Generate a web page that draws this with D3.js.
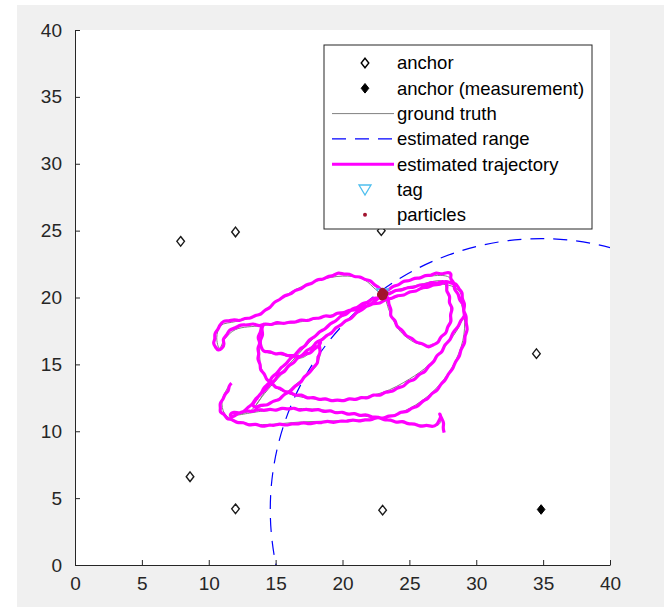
<!DOCTYPE html>
<html>
<head>
<meta charset="utf-8">
<style>
  body { margin: 0; background: #fff; }
  svg { display: block; }
</style>
</head>
<body>
<script src="https://cdn.jsdelivr.net/npm/d3@7"></script>
<div id="container1"></div>

<script>

// ---- data ----
const anchors = [[7.9, 24.2], [12.0, 24.9], [22.9, 25.0], [34.5, 15.8], [8.6, 6.6], [12.0, 4.2], [23.0, 4.1]];
const anchorMeas = [[34.85, 4.15]];
const estRange = [20.25];
const tagPos = [[23.0, 20.3]];
const particles = [[22.85, 20.3], [22.95, 20.45], [23.1, 20.4], [23.15, 20.2], [23.0, 20.1], [22.9, 20.15],
  [23.05, 20.3], [22.8, 20.2], [23.2, 20.3], [23.0, 20.5], [22.95, 20.0], [23.1, 20.05], [22.9, 20.35]];

const groundTruth = [
  [11.5,13.4],[11.0,12.3],[11.2,11.3],[12.2,10.7],[14.0,10.5],[17.0,10.7],[20.0,10.8],[23.0,11.0],[25.0,11.7],
  [26.8,13.0],[28.2,14.8],[29.0,16.8],[29.1,18.6],[28.6,20.3],[28.0,21.5],[26.5,21.6],[25.0,21.3],[23.8,20.8],
  [23.0,20.3],[21.5,21.4],[20.0,21.6],[18.3,21.3],[16.5,20.6],[14.8,19.5],[13.5,18.6],[12.0,18.2],[10.9,17.9],
  [10.6,17.0],[10.8,16.2],[11.2,16.9],[12.0,17.6],[14.0,17.9],[17.0,18.2],[20.0,18.9],[23.0,19.7],[25.5,20.5],
  [27.5,21.0],[28.7,20.5],[29.1,19.0],[28.7,17.8],[27.8,16.5],[26.5,15.0],[25.0,13.9],[23.0,12.9],[20.5,12.4],
  [18.0,12.4],[16.0,12.8],[14.7,13.5],[14.0,14.5],[13.8,16.0],[14.0,17.5],[14.0,16.1],[15.5,15.7],[17.0,15.5],
  [18.3,16.5],[18.1,15.0],[16.5,13.5],[15.0,12.3],[13.5,11.8],[14.0,12.6],[16.0,14.8],[18.0,16.6],[20.0,18.0],
  [21.5,19.1],[23.0,20.1],[23.5,19.0],[24.2,17.6],[25.5,16.6],[26.8,16.5],[27.8,17.6],[28.1,19.0],[27.8,20.5],
  [27.5,21.2],[25.5,20.9],[23.5,20.4],[22.0,19.7],[20.0,18.6],[18.0,17.1],[16.0,15.0],[14.5,13.4],[13.2,11.6],
  [12.0,11.2],[14.0,11.5],[17.0,11.7],[20.0,11.4],[23.0,10.9],[25.5,10.5],[27.2,10.5],[27.4,11.1]
];

const trajectory = [
  // lower-left hook, bottom, right side up
  [11.7,13.6],[11.5,13.4],[11.5,13.0],[11.2,12.8],[11.1,12.4],[10.8,12.1],[10.9,11.7],[10.8,11.4],[11.2,11.3],
  [11.3,10.9],[11.8,10.9],[12.1,10.6],[12.6,10.7],[13.0,10.4],[13.5,10.6],[14.0,10.3],[14.5,10.5],[14.9,10.4],
  [15.3,10.6],[15.8,10.4],[16.2,10.6],[16.7,10.5],[17.1,10.7],[17.5,10.5],[18.0,10.7],[18.4,10.6],[18.9,10.8],
  [19.3,10.6],[19.8,10.8],[20.3,10.7],[20.8,10.9],[21.2,10.7],[21.7,10.9],[22.1,10.8],[22.6,11.1],[23.0,10.9],
  [23.5,11.2],[23.9,11.1],[24.4,11.5],[24.8,11.4],[25.2,11.8],[25.6,11.8],[26.0,12.3],[26.4,12.4],[26.7,12.9],
  [27.1,13.0],[27.3,13.5],[27.7,13.8],[27.9,14.3],[28.3,14.7],[28.4,15.2],[28.8,15.6],[28.8,16.1],[29.2,16.6],
  [29.1,17.1],[29.4,17.6],[29.2,18.1],[29.3,18.6],[29.0,19.0],[29.1,19.5],[28.7,19.8],[28.7,20.3],[28.3,20.6],
  [28.4,21.1],[28.0,21.4],[28.2,21.8],
  // top, left to the hook
  [27.8,21.9],[27.4,21.7],[27.0,21.9],[26.6,21.6],[26.2,21.7],[25.8,21.4],[25.4,21.5],[25.0,21.2],[24.6,21.3],
  [24.2,20.9],[23.8,20.9],[23.4,20.5],[23.0,20.4],[22.7,20.8],[22.4,20.9],[22.1,21.3],[21.7,21.3],[21.3,21.6],
  [20.9,21.5],[20.5,21.8],[20.1,21.7],[19.7,21.9],[19.3,21.6],[18.9,21.6],[18.5,21.3],[18.1,21.4],[17.7,21.0],
  [17.3,21.0],[16.9,20.6],[16.5,20.6],[16.1,20.2],[15.7,20.2],[15.3,19.8],[14.9,19.7],[14.6,19.2],[14.2,19.1],
  [13.9,18.7],[13.5,18.7],[13.1,18.4],[12.7,18.5],[12.3,18.2],[11.9,18.4],[11.5,18.2],[11.1,18.3],[10.8,17.9],
  [10.7,17.6],[10.4,17.3],[10.5,16.9],[10.3,16.6],[10.5,16.3],[10.7,16.0],[11.0,16.2],
  // upper horizontal to the right
  [11.2,16.5],[11.0,16.9],[11.4,17.2],[11.5,17.6],[12.0,17.7],[12.4,18.0],[12.9,17.9],[13.3,18.1],[13.8,17.8],
  [14.2,18.1],[14.7,17.9],[15.1,18.2],[15.6,18.0],[16.0,18.2],[16.5,18.1],[16.9,18.4],[17.4,18.2],[17.8,18.5],
  [18.3,18.4],[18.7,18.7],[19.2,18.5],[19.6,18.9],[20.1,18.8],[20.5,19.1],[21.0,19.0],[21.4,19.4],[21.9,19.3],
  [22.3,19.6],[22.8,19.5],[23.2,19.9],[23.7,19.9],[24.1,20.2],[24.6,20.1],[25.0,20.5],[25.5,20.4],[25.9,20.8],
  [26.4,20.7],[26.8,21.0],[27.3,20.9],[27.7,21.3],[28.2,21.0],[28.5,21.1],[28.7,20.6],[29.0,20.4],[28.9,19.9],
  [29.2,19.5],[29.0,19.0],[29.2,18.6],
  // inner lower loop
  [28.8,18.3],[28.7,17.8],[28.2,17.4],[28.1,16.8],[27.6,16.5],[27.5,15.9],[27.0,15.7],[26.9,15.2],[26.4,14.9],
  [26.2,14.4],[25.7,14.3],[25.4,13.8],[24.9,13.8],[24.6,13.3],[24.1,13.3],[23.7,12.9],[23.2,13.0],[22.8,12.6],
  [22.3,12.8],[21.9,12.4],[21.4,12.6],[21.0,12.3],[20.5,12.5],[20.1,12.2],[19.6,12.4],[19.2,12.2],[18.7,12.5],
  [18.3,12.3],[17.8,12.6],[17.4,12.4],[16.9,12.8],[16.5,12.6],[16.0,13.0],[15.7,12.9],[15.3,13.3],[15.0,13.2],
  [14.7,13.7],[14.3,13.8],[14.2,14.3],[13.8,14.6],[13.9,15.0],[13.6,15.4],[13.8,15.8],[13.6,16.2],[13.9,16.6],
  [13.6,17.0],[13.9,17.4],[13.9,17.8],[14.2,18.1],
  // middle horizontal and notch
  [13.9,17.7],[14.1,17.2],[13.8,16.8],[13.9,16.3],[14.1,15.9],[14.6,16.0],[15.0,15.7],[15.4,15.9],[15.9,15.6],
  [16.3,15.7],[16.8,15.5],[17.2,15.8],[17.6,15.8],[17.9,16.2],[18.3,16.4],[18.4,16.8],[18.2,16.4],[18.4,15.9],
  [18.1,15.5],[18.2,15.1],[17.8,14.8],[17.6,14.4],[17.1,14.1],[16.9,13.6],[16.4,13.4],[16.1,12.9],[15.6,12.8],
  [15.3,12.3],[14.8,12.3],[14.4,11.9],[13.9,12.0],[13.5,11.7],[13.2,12.0],
  // diagonal up to the particles
  [13.6,12.4],[13.8,12.8],[14.3,13.1],[14.5,13.5],[15.0,13.8],[15.2,14.3],[15.7,14.4],[15.9,14.9],[16.4,15.1],
  [16.6,15.5],[17.1,15.7],[17.3,16.1],[17.8,16.2],[18.0,16.7],[18.5,16.8],[18.8,17.2],[19.2,17.3],[19.5,17.8],
  [19.9,17.9],[20.2,18.3],[20.7,18.4],[21.0,18.9],[21.4,19.0],[21.8,19.4],[22.2,19.5],[22.6,19.9],[23.0,20.2],
  // right inner loop
  [23.5,20.0],[23.4,19.5],[23.7,19.1],[23.5,18.6],[24.0,18.3],[24.0,17.8],[24.5,17.6],[24.7,17.1],[25.2,17.0],
  [25.5,16.6],[26.0,16.6],[26.4,16.2],[26.8,16.5],[27.2,16.6],[27.3,17.1],[27.8,17.3],[27.8,17.8],[28.2,18.2],
  [28.0,18.7],[28.3,19.2],[27.9,19.6],[28.1,20.1],[27.7,20.5],[27.9,20.9],[27.5,21.3],
  // back left and down the second diagonal
  [27.1,21.0],[26.7,21.2],[26.2,20.9],[25.8,21.0],[25.3,20.7],[24.9,20.8],[24.4,20.5],[24.0,20.6],[23.5,20.2],
  [23.1,20.3],[22.7,19.9],[22.3,20.0],[21.9,19.6],[21.5,19.6],[21.1,19.2],[20.7,19.2],[20.3,18.7],[19.9,18.7],
  [19.5,18.2],[19.1,18.1],[18.7,17.6],[18.3,17.5],[17.9,17.0],[17.5,16.9],[17.2,16.3],[16.8,16.2],[16.5,15.7],
  [16.1,15.5],[15.8,15.0],[15.4,14.8],[15.1,14.3],[14.7,14.1],[14.5,13.5],[14.1,13.3],[13.9,12.7],[13.5,12.5],
  [13.3,12.0],[12.9,11.8],[12.6,11.4],[12.2,11.4],[11.8,11.0],[11.5,11.2],
  // second bottom run into the tail
  [11.9,11.5],[12.3,11.3],[12.8,11.6],[13.2,11.4],[13.7,11.7],[14.1,11.5],[14.6,11.7],[15.0,11.5],[15.5,11.8],
  [15.9,11.6],[16.4,11.8],[16.8,11.5],[17.3,11.7],[17.7,11.5],[18.2,11.7],[18.6,11.4],[19.1,11.6],[19.5,11.3],
  [20.0,11.5],[20.4,11.2],[20.9,11.4],[21.3,11.1],[21.8,11.3],[22.2,11.0],[22.7,11.1],[23.1,10.8],[23.6,10.9],
  [24.0,10.6],[24.5,10.8],[24.9,10.5],[25.4,10.6],[25.8,10.3],[26.3,10.5],[26.7,10.3],[27.1,10.5],[27.2,10.8],
  [27.4,11.1],[27.2,11.4],[27.4,11.0],[27.6,10.6],[27.5,10.3],[27.6,9.9]
];

const xTicks = [0, 5, 10, 15, 20, 25, 30, 35, 40];
const yTicks = [0, 5, 10, 15, 20, 25, 30, 35, 40];
const legendLabels = ["anchor", "anchor (measurement)", "ground truth", "estimated range",
  "estimated trajectory", "tag", "particles"];

// ---- layout ----
const W = 664, H = 607;
const margin = {top: 30, left: 75},
    width = 535,
    height = 535;

const svg = d3.select("#container1")
  .append("svg")
    .attr("width", W)
    .attr("height", H)
    .style("font-family", "'Liberation Sans', Arial, Helvetica, sans-serif");

// figure background
svg.append("rect").attr("x", 17).attr("y", 5).attr("width", W - 17).attr("height", H - 5).attr("fill", "#f0f0f0");

const g = svg.append("g").attr("transform", `translate(${margin.left},${margin.top})`);

g.append("rect").attr("width", width).attr("height", height).attr("fill", "#fff");

const x = d3.scaleLinear().domain([0, 40]).range([0, width]);
const y = d3.scaleLinear().domain([0, 40]).range([height, 0]);

g.append("clipPath").attr("id", "clip")
  .append("rect").attr("width", width).attr("height", height);

const plot = g.append("g").attr("clip-path", "url(#clip)");

const diamond = "M0,-4.8L3.8,0L0,4.8L-3.8,0Z";

// ground truth
plot.append("path")
  .datum(groundTruth)
  .attr("fill", "none")
  .attr("stroke", "#808080")
  .attr("stroke-width", 1)
  .attr("d", d3.line().x(d => x(d[0])).y(d => y(d[1])).curve(d3.curveCatmullRom));

// estimated range
plot.selectAll("circle.range")
  .data(estRange)
  .join("circle")
    .attr("class", "range")
    .attr("cx", x(anchorMeas[0][0]))
    .attr("cy", y(anchorMeas[0][1]))
    .attr("r", d => x(d) - x(0))
    .attr("fill", "none")
    .attr("stroke", "#0000ff")
    .attr("stroke-width", 1.2)
    .attr("stroke-dasharray", "14,9");

// estimated trajectory
plot.append("path")
  .datum(trajectory)
  .attr("fill", "none")
  .attr("stroke", "#ff00ff")
  .attr("stroke-width", 3.2)
  .attr("stroke-linejoin", "round")
  .attr("d", d3.line().x(d => x(d[0])).y(d => y(d[1])).curve(d3.curveBasis));

// anchors
plot.selectAll("path.anchor")
  .data(anchors)
  .join("path")
    .attr("class", "anchor")
    .attr("transform", d => `translate(${x(d[0])},${y(d[1])})`)
    .attr("d", diamond)
    .attr("fill", "none")
    .attr("stroke", "#1a1a1a")
    .attr("stroke-width", 1.4);

plot.selectAll("path.meas")
  .data(anchorMeas)
  .join("path")
    .attr("class", "meas")
    .attr("transform", d => `translate(${x(d[0])},${y(d[1])})`)
    .attr("d", diamond)
    .attr("fill", "#000")
    .attr("stroke", "#000");

// tag
const tri = "M-6,-4.5L6,-4.5L0,5.5Z";
plot.selectAll("path.tag")
  .data(tagPos)
  .join("path")
    .attr("class", "tag")
    .attr("transform", d => `translate(${x(d[0])},${y(d[1])})`)
    .attr("d", tri)
    .attr("fill", "none")
    .attr("stroke", "#4dbeee")
    .attr("stroke-width", 1.3);

// particles
plot.selectAll("circle.particle")
  .data(particles)
  .join("circle")
    .attr("class", "particle")
    .attr("cx", d => x(d[0]))
    .attr("cy", d => y(d[1]))
    .attr("r", 3)
    .attr("fill", "#a2142f");

// axes (MATLAB style: ticks inward, no box)
const xAxis = g.append("g")
  .attr("transform", `translate(0,${height})`)
  .call(d3.axisBottom(x).tickValues(xTicks).tickSize(-5).tickPadding(12).tickSizeOuter(0));
const yAxis = g.append("g")
  .call(d3.axisLeft(y).tickValues(yTicks).tickSize(-5).tickPadding(13).tickSizeOuter(0));

[xAxis, yAxis].forEach(a => {
  a.select(".domain").attr("stroke", "#262626");
  a.selectAll(".tick line").attr("stroke", "#262626");
  a.selectAll(".tick text")
    .attr("fill", "#262626")
    .style("font-size", "19px")
    .style("font-family", "'Liberation Sans', Arial, sans-serif");
});

// legend
const lg = svg.append("g").attr("transform", "translate(324,45)");
lg.append("rect")
  .attr("width", 268).attr("height", 184)
  .attr("fill", "#fff").attr("stroke", "#262626").attr("stroke-width", 1);

const rowY = i => 18 + i * 25.3;
const mx = 41, lx0 = 8, lx1 = 70, tx = 73;

lg.selectAll("text")
  .data(legendLabels)
  .join("text")
    .attr("x", tx)
    .attr("y", (d, i) => rowY(i))
    .attr("dy", "0.35em")
    .style("font-size", "18.5px")
    .attr("fill", "#000")
    .text(d => d);

lg.append("path").attr("transform", `translate(${mx},${rowY(0)})`).attr("d", diamond)
  .attr("fill", "none").attr("stroke", "#000").attr("stroke-width", 1.4);
lg.append("path").attr("transform", `translate(${mx},${rowY(1)})`).attr("d", diamond)
  .attr("fill", "#000").attr("stroke", "#000");
lg.append("line").attr("x1", lx0).attr("x2", lx1).attr("y1", rowY(2)).attr("y2", rowY(2))
  .attr("stroke", "#808080").attr("stroke-width", 1);
lg.append("line").attr("x1", lx0).attr("x2", lx1).attr("y1", rowY(3)).attr("y2", rowY(3))
  .attr("stroke", "#0000ff").attr("stroke-width", 1.2).attr("stroke-dasharray", "14,9");
lg.append("line").attr("x1", lx0).attr("x2", lx1).attr("y1", rowY(4)).attr("y2", rowY(4))
  .attr("stroke", "#ff00ff").attr("stroke-width", 3);
lg.append("path").attr("transform", `translate(${mx},${rowY(5)})`).attr("d", tri)
  .attr("fill", "none").attr("stroke", "#4dbeee").attr("stroke-width", 1.3);
lg.append("circle").attr("cx", mx).attr("cy", rowY(6)).attr("r", 2).attr("fill", "#a2142f");

</script>
</body>
</html>
